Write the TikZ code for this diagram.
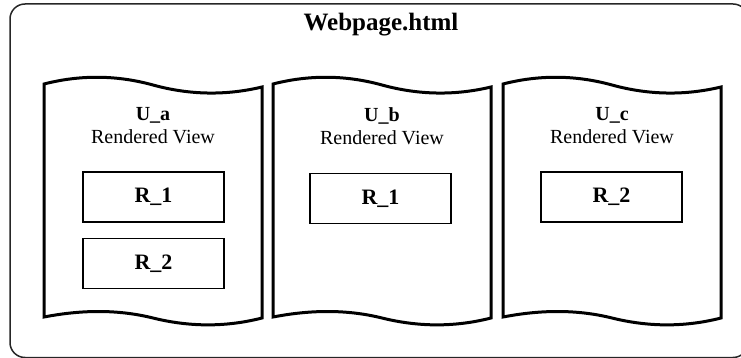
\documentclass[tikz,border=0pt]{standalone}
\usepackage{fontspec}
\setmainfont{Liberation Serif}
\tikzset{
  frame/.style={draw=black!85, line width=1.5pt, rounded corners=15pt},
  page/.style={draw, line width=3pt, line join=miter},
  region/.style={draw, line width=1.5pt, minimum width=141pt, minimum height=50pt,
    inner sep=0pt, font=\fontsize{22}{26}\selectfont\bfseries},
  caption/.style={align=center, font=\fontsize{20}{23}\selectfont},
  heading/.style={font=\fontsize{25}{30}\selectfont\bfseries},
  % a sheet with wavy top and bottom edges
  pics/sheet/.style={code={
    \draw[page] (0,84) .. controls (36.3,74.7) and (72.7,75) .. (109,85)
      .. controls (145.3,95) and (181.7,95.7) .. (218,87) -- (218,318)
      .. controls (181.7,327.3) and (145.3,327) .. (109,318)
      .. controls (72.7,309) and (36.3,310) .. (0,317) -- cycle;
  }}
}
\begin{document}
\begin{tikzpicture}[x=1pt,y=-1pt]
\useasboundingbox (0,0) rectangle (741,358);
% outer page frame
\draw[frame] (10,4) rectangle (748,357.5);
\node[heading] (title) at (381,25) {Webpage.html};

% three rendered views
\pic at (44,0) {sheet};
\pic at (273,0) {sheet};
\pic at (503,0) {sheet};

\node[caption] (ua) at (153,126) {\textbf{U\_a}\\Rendered View};
\node[caption] (ub) at (382,126) {\textbf{U\_b}\\Rendered View};
\node[caption] (uc) at (612,126) {\textbf{U\_c}\\Rendered View};

% regions inside each view
\node[region] (ua1) at (153.5,197) {R\_1};
\node[region] (ua2) at (153.5,263.5) {R\_2};
\node[region] (ub1) at (380.5,198.5) {R\_1};
\node[region] (uc2) at (611.5,197) {R\_2};
\end{tikzpicture}
\end{document}
